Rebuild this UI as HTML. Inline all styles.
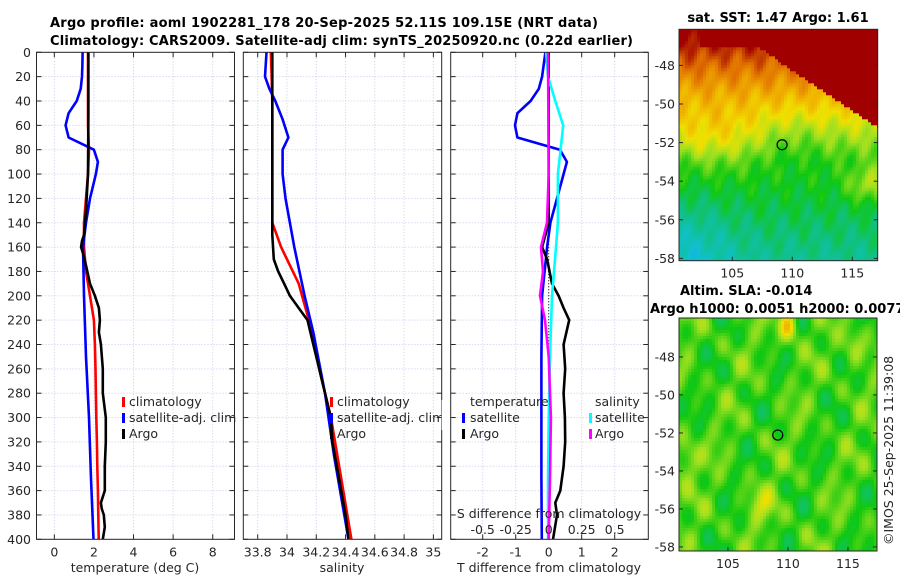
<!DOCTYPE html>
<html><head><meta charset="utf-8"><style>
html,body{margin:0;padding:0;background:#fff;}
svg{display:block;font-family:"DejaVu Sans","Liberation Sans",sans-serif;}
.tk{font-size:12.5px;fill:#262626;}
.tt{font-size:13px;font-weight:bold;fill:#000;}
</style></head><body>
<svg id="fig" width="900" height="580" viewBox="0 0 900 580" xmlns="http://www.w3.org/2000/svg">
<rect width="900" height="580" fill="#fff"/>
<text class="tt" x="50" y="27" textLength="548">Argo profile: aoml 1902281_178 20-Sep-2025 52.11S 109.15E (NRT data)</text>
<text class="tt" x="50" y="45" textLength="583">Climatology: CARS2009. Satellite-adj clim: synTS_20250920.nc (0.22d earlier)</text>
<text class="tt" x="778" y="22" text-anchor="middle">sat. SST: 1.47 Argo: 1.61</text>
<text class="tt" x="680" y="295">Altim. SLA: -0.014</text>
<text class="tt" x="650" y="313">Argo h1000: 0.0051 h2000: 0.0077</text>
<text class="tk" transform="translate(893,545) rotate(-90)">©IMOS 25-Sep-2025 11:39:08</text>
<g id="plots"></g>
</svg>
<script>
// ---- data (depth in m) ----
const depthTicks=[0,20,40,60,80,100,120,140,160,180,200,220,240,260,280,300,320,340,360,380,400];
const tempTicks=[0,2,4,6,8];
const salTicks=[33.8,34,34.2,34.4,34.6,34.8,35];
const salTickLabels=["33.8","34","34.2","34.4","34.6","34.8","35"];
const tdiffTicks=[-2,-1,0,1,2];
const sdiffTicks=[-0.5,-0.25,0,0.25,0.5];
const sdiffTickLabels=["-0.5","-0.25","0","0.25","0.5"];

const climTDepth=[0,20,40,60,80,100,120,140,160,180,200,220,240,260,280,300,320,340,360,380,400];
const climT=[1.7,1.7,1.7,1.7,1.75,1.7,1.6,1.5,1.5,1.6,1.8,2.0,2.05,2.08,2.1,2.12,2.15,2.17,2.2,2.22,2.24];
const satTDepth=[0,10,20,30,40,50,60,70,80,90,100,120,140,160,200,250,300,350,400];
const satT=[1.43,1.42,1.4,1.33,1.13,0.72,0.57,0.72,2.0,2.2,2.1,1.8,1.6,1.45,1.5,1.6,1.75,1.85,1.98];
const argoTDepth=[0,50,100,130,150,155,160,165,175,190,200,210,220,230,240,260,280,300,320,340,360,370,375,380,390,400];
const argoT=[1.72,1.72,1.7,1.6,1.5,1.4,1.35,1.45,1.6,1.8,2.05,2.25,2.3,2.25,2.35,2.45,2.45,2.6,2.6,2.55,2.55,2.35,2.4,2.5,2.55,2.45];

const climSDepth=[0,40,100,140,160,190,220,260,300,350,400];
const climS=[33.89,33.9,33.9,33.9,33.96,34.08,34.15,34.22,34.3,34.37,34.44];
const satSDepth=[0,20,30,40,55,70,80,100,120,160,200,230,280,330,400];
const satS=[33.86,33.85,33.88,33.92,33.97,34.01,33.97,33.97,33.99,34.05,34.12,34.18,34.26,34.32,34.42];
const argoSDepth=[0,50,100,150,170,180,190,200,210,220,240,260,280,300,320,340,360,380,400];
const argoS=[33.9,33.9,33.9,33.9,33.91,33.94,33.98,34.02,34.08,34.14,34.18,34.22,34.26,34.3,34.31,34.34,34.37,34.4,34.42];

const satTdDepth=[0,20,30,40,50,60,70,80,90,100,120,140,160,200,250,300,350,400];
const satTdiff=[-0.1,-0.2,-0.3,-0.55,-0.95,-1.02,-0.95,0.34,0.55,0.45,0.25,0.05,-0.05,-0.2,-0.22,-0.22,-0.22,-0.21];
const argoTdDepth=[0,100,140,160,170,190,200,210,220,240,260,280,300,320,340,360,370,380,400];
const argoTdiff=[0,0,0,-0.2,-0.05,0.1,0.3,0.45,0.62,0.45,0.5,0.45,0.49,0.5,0.45,0.35,0.2,0.25,0.13];
const satSdDepth=[0,20,40,60,80,100,140,160,200,250,300,350,400];
const satSdiff=[-0.02,-0.005,0.05,0.11,0.09,0.07,0.07,0.055,0.025,0.01,0.0,-0.005,-0.005];
const argoSdDepth=[0,100,140,160,180,200,220,250,300,350,400];
const argoSdiff=[-0.005,0,-0.013,-0.058,-0.043,-0.066,-0.028,0,0.017,0.01,0];

const NS="http://www.w3.org/2000/svg";
const root=document.getElementById('plots');
function mk(tag,attrs,parent){const e=document.createElementNS(NS,tag);for(const k in attrs)e.setAttribute(k,attrs[k]);(parent||root).appendChild(e);return e;}

const TOP=52.3,BOT=539.3;
const yD=d=>TOP+(d/400)*(BOT-TOP);
const panels=[
 {L:36.5,R:234.5,x0:-0.9,x1:9.1,name:'temperature-panel'},
 {L:243.3,R:441.7,x0:33.7016,x1:35.0568,name:'salinity-panel'},
 {L:450.7,R:648.3,x0:-2.97,x1:3.018,name:'difference-panel'}
];
const xT=v=>panels[0].L+(v-panels[0].x0)/(panels[0].x1-panels[0].x0)*(panels[0].R-panels[0].L);
const xS=v=>panels[1].L+(v-panels[1].x0)/(panels[1].x1-panels[1].x0)*(panels[1].R-panels[1].L);
const xTd=v=>548.7+v*33;
const xSd=v=>548.7+v*132;

function frame(p,xt,xfun,labels){
  const g=mk('g',{});
  
  
  depthTicks.forEach(d=>{mk('line',{x1:p.L,x2:p.R,y1:yD(d),y2:yD(d),stroke:'#c8cbe8','stroke-width':1,'stroke-dasharray':'1,2'},g);
    mk('line',{x1:p.L,x2:p.L+5,y1:yD(d),y2:yD(d),stroke:'#262626'},g);
    mk('line',{x1:p.R-5,x2:p.R,y1:yD(d),y2:yD(d),stroke:'#262626'},g);});
  xt.forEach((v,i)=>{const x=xfun(v);
    mk('line',{x1:x,x2:x,y1:TOP,y2:BOT,stroke:'#c8cbe8','stroke-width':1,'stroke-dasharray':'1,2'},g);
    mk('line',{x1:x,x2:x,y1:BOT-5,y2:BOT,stroke:'#262626'},g);
    mk('line',{x1:x,x2:x,y1:TOP,y2:TOP+5,stroke:'#262626'},g);
    const t=mk('text',{x:x,y:BOT+17,'text-anchor':'middle',class:'tk'},g);t.textContent=labels?labels[i]:String(v);
    
    });
  return g;
}
function line(xs,ds,fx,color,g,name){
  const pts=xs.map((v,i)=>fx(v).toFixed(1)+','+yD(ds[i]).toFixed(1)).join(' ');
  const e=mk('polyline',{points:pts,fill:'none',stroke:color,'stroke-width':2.6,'stroke-linejoin':'round'},g);
  
  
}
function txt(s,x,y,g,name,anchor){const t=mk('text',{x:x,y:y,class:'tk','text-anchor':anchor||'start'},g);t.textContent=s;
  
  return t;}
function mark(x,y,c,g){mk('rect',{x:x,y:y-11,width:3,height:10,fill:c},g);}
function box(p,g){mk('rect',{x:p.L,y:TOP,width:p.R-p.L,height:BOT-TOP,fill:'none',stroke:'#262626','stroke-width':1},g);}

// panel 1
let g1=frame(panels[0],tempTicks,xT);
depthTicks.forEach(d=>{txt(String(d),31,yD(d)+4.5,g1,'y-tick-label','end');});
line(climT,climTDepth,xT,'#ff0000',g1,'climatology-temperature-line');
line(satT,satTDepth,xT,'#0000ff',g1,'satellite-temperature-line');
line(argoT,argoTDepth,xT,'#000000',g1,'argo-temperature-line');
box(panels[0],g1);
mark(122,408,'#ff0000',g1);txt('climatology',129,406,g1,'legend-climatology');
mark(122,424,'#0000ff',g1);txt('satellite-adj. clim',129,422,g1,'legend-satellite-adj');
mark(122,440,'#000000',g1);txt('Argo',129,438,g1,'legend-argo');
txt('temperature (deg C)',135,572,g1,'x-axis-title-temperature','middle');

// panel 2
let g2=frame(panels[1],salTicks,xS,salTickLabels);
line(climS,climSDepth,xS,'#ff0000',g2,'climatology-salinity-line');
line(satS,satSDepth,xS,'#0000ff',g2,'satellite-salinity-line');
line(argoS,argoSDepth,xS,'#000000',g2,'argo-salinity-line');
box(panels[1],g2);
mark(330,408,'#ff0000',g2);txt('climatology',337,406,g2,'legend-climatology-2');
mark(330,424,'#0000ff',g2);txt('satellite-adj. clim',337,422,g2,'legend-satellite-adj-2');
mark(330,440,'#000000',g2);txt('Argo',337,438,g2,'legend-argo-2');
mk('rect',{x:441.7,y:400,width:8,height:30,fill:'#fff'});
txt('salinity',342,572,g2,'x-axis-title-salinity','middle');

// panel 3
let g3=frame(panels[2],tdiffTicks,xTd);
mk('line',{x1:548.7,x2:548.7,y1:TOP,y2:BOT,stroke:'#000','stroke-width':1,'stroke-dasharray':'1,2'},g3);
line(satTdiff,satTdDepth,xTd,'#0000ff',g3,'satellite-t-diff-line');
line(argoTdiff,argoTdDepth,xTd,'#000000',g3,'argo-t-diff-line');
line(satSdiff,satSdDepth,xSd,'#00ffff',g3,'satellite-s-diff-line');
line(argoSdiff,argoSdDepth,xSd,'#ff00ff',g3,'argo-s-diff-line');
box(panels[2],g3);
txt('temperature',470,406,g3,'legend-temperature-heading');
mark(462,424,'#0000ff',g3);txt('satellite',470,422,g3,'legend-t-satellite');
mark(462,440,'#000000',g3);txt('Argo',470,438,g3,'legend-t-argo');
txt('salinity',595,406,g3,'legend-salinity-heading');
mark(589,424,'#00ffff',g3);txt('satellite',595,422,g3,'legend-s-satellite');
mark(589,440,'#ff00ff',g3);txt('Argo',595,438,g3,'legend-s-argo');
txt('S difference from climatology',549,518,g3,'s-diff-axis-title','middle');
sdiffTicks.forEach((v,i)=>txt(sdiffTickLabels[i],xSd(v),534,g3,'s-diff-tick-label','middle'));
txt('T difference from climatology',549,572,g3,'x-axis-title-t-diff','middle');

// ---- maps ----
const cstops=[[0,[32,144,255]],[0.15,[16,192,208]],[0.3,[16,192,128]],[0.42,[16,200,16]],[0.55,[160,224,32]],[0.65,[240,224,0]],[0.75,[240,176,0]],[0.87,[224,112,0]],[1,[160,0,0]]];
function cmap(t){t=Math.max(0,Math.min(1,t));for(let i=1;i<cstops.length;i++){if(t<=cstops[i][0]){const a=cstops[i-1],b=cstops[i],f=(t-a[0])/(b[0]-a[0]);return 'rgb('+a[1].map((c,k)=>Math.round(c+(b[1][k]-c)*f)).join(',')+')';}}return 'rgb(160,0,0)';}
const gau=(x,y,cx,cy,sx,sy)=>Math.exp(-((x-cx)*(x-cx)/(sx*sx)+(y-cy)*(y-cy)/(sy*sy)));
function sst(lon,lat){
  const latB=lon<107?-47:-47-(lon-107)*0.42;
  if(lat>latB&&lon>102.3)return 1;
  let t=lat>-53?0.45+(lat+53)*0.085:0.45+(lat+53)*0.035;
  t+=0.1*gau(lon,lat,103.5,-51.8,4,1.6);
  t-=0.12*gau(lon,lat,101,-58,4,3);
  t+=0.16*gau(lon,lat,116.5,-54.2,1.8,0.9);
  t-=0.05*gau(lon,lat,110,-52,3,1.5);
  t+=0.03*Math.sin(lon*2.3+lat*1.7)+0.025*Math.sin(lon*4.1-lat*3.3);
  return t;
}
function sla(lon,lat){
  let t=0.46+0.07*Math.sin(lon*1.1+lat*0.7)*Math.cos(lat*1.3)+0.04*Math.sin(lon*2.7-lat*1.9)+0.03*Math.cos(lon*1.9+lat*2.6);
  t+=0.25*gau(lon,lat,110,-46.3,0.7,0.8);
  t+=0.12*gau(lon,lat,101.5,-53.5,1,1)+0.1*gau(lon,lat,107.8,-55.8,1.2,0.9)+0.1*gau(lon,lat,115.5,-47.5,1,1);
  return t;
}
function drawMap(m){
  const g=mk('g',{});
  
  
  const cs=3;
  for(let x=m.L;x<m.R;x+=cs)for(let y=m.T;y<m.B;y+=cs){
    const lon=m.lon0+(x+1.5-m.L)/m.px, lat=m.lat0-(y+1.5-m.T)/m.py;
    mk('rect',{x:x,y:y,width:Math.min(cs,m.R-x)+0.3,height:Math.min(cs,m.B-y)+0.3,fill:cmap(m.f(lon,lat))},g);
  }
  mk('rect',{x:m.L,y:m.T,width:m.R-m.L,height:m.B-m.T,fill:'none',stroke:'#262626'},g);
  [-48,-50,-52,-54,-56,-58].forEach(la=>{const y=m.T+(m.lat0-la)*m.py;
    mk('line',{x1:m.L,x2:m.L+4,y1:y,y2:y,stroke:'#262626'},g);mk('line',{x1:m.R-4,x2:m.R,y1:y,y2:y,stroke:'#262626'},g);
    txt(String(la),m.L-4,y+4.5,g,'map-lat-label','end');});
  [105,110,115].forEach(lo=>{const x=m.L+(lo-m.lon0)*m.px;
    mk('line',{x1:x,x2:x,y1:m.B-4,y2:m.B,stroke:'#262626'},g);
    txt(String(lo),x,m.B+17,g,'map-lon-label','middle');});
  const cx=m.L+(109.15-m.lon0)*m.px, cy=m.T+(m.lat0+52.11)*m.py;
  const c=mk('circle',{cx:cx,cy:cy,r:5,fill:'none',stroke:'#000','stroke-width':1.2},g);
  
  
}
drawMap({name:'sst-map',L:679,R:877.7,T:29.3,B:260.7,lon0:100.56,lat0:-46.13,px:12,py:19.3,f:sst});
drawMap({name:'sla-map',L:679,R:877,T:318,B:551,lon0:100.92,lat0:-45.95,px:12,py:19.0,f:sla});
</script>
</body></html>
